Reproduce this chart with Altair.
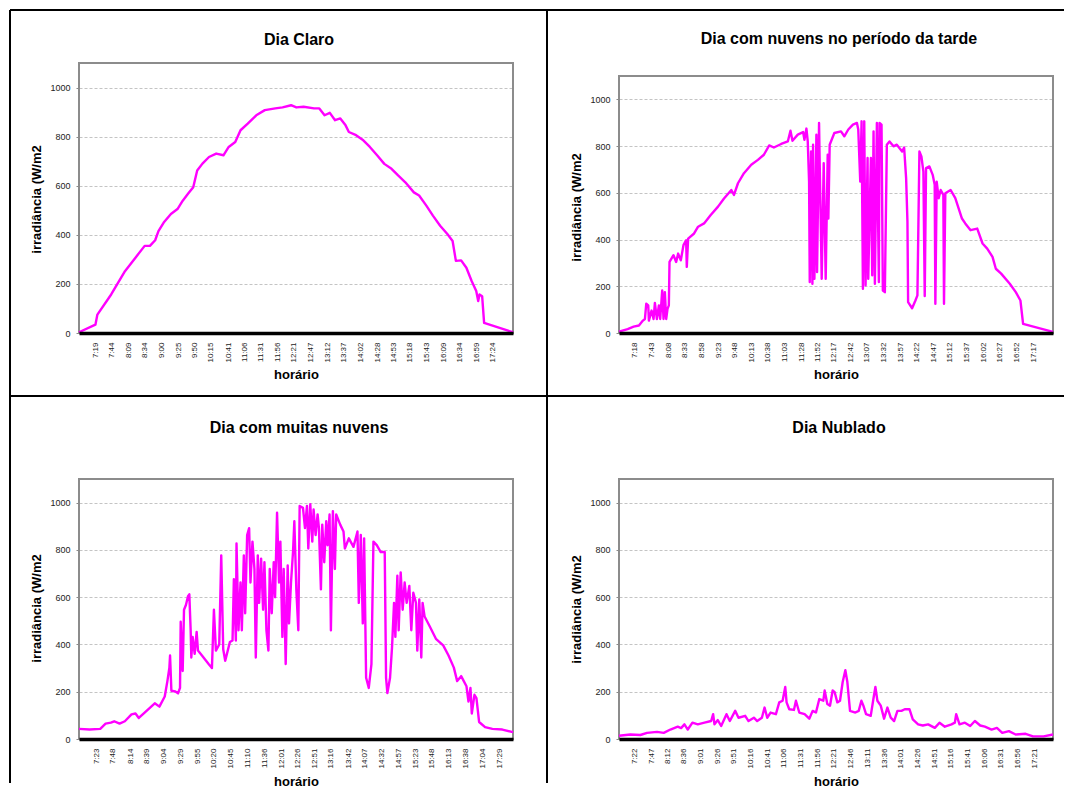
import altair as alt
import pandas as pd

# ---------------- data (time in minutes since midnight, irradiance in W/m2) ----------------
claro_ticks = ["7:19", "7:44", "8:09", "8:34", "9:00", "9:25", "9:50", "10:15", "10:41", "11:06",
               "11:31", "11:56", "12:21", "12:47", "13:12", "13:37", "14:02", "14:28", "14:53",
               "15:18", "15:43", "16:09", "16:34", "16:59", "17:24"]
claro_time = [414, 439, 442, 463, 484, 500, 514, 522, 530, 535, 543, 554, 564, 572, 580, 588, 594,
              602, 612, 623, 634, 642, 652, 660, 671, 684, 697, 713, 724, 737, 745, 756, 772, 780,
              788, 796, 804, 812, 820, 825, 836, 847, 857, 868, 879, 890, 900, 911, 924, 932, 943,
              953, 964, 975, 983, 988, 996, 1004, 1012, 1019, 1022, 1024, 1028, 1031, 1075]
claro_irr = [3, 34, 75, 157, 252, 307, 355, 355, 378, 415, 450, 485, 505, 539, 567, 594, 662,
             690, 717, 731, 724, 758, 778, 826, 853, 887, 908, 915, 919, 928, 919, 922, 915, 915,
             887, 897, 867, 874, 846, 819, 806, 785, 758, 724, 689, 669, 642, 614, 573, 560, 519,
             478, 437, 403, 375, 294, 296, 266, 212, 171, 130, 157, 150, 41, 3]

tarde_ticks = ["7:18", "7:43", "8:08", "8:33", "8:58", "9:23", "9:48", "10:13", "10:38", "11:03",
               "11:28", "11:52", "12:17", "12:42", "13:07", "13:32", "13:57", "14:22", "14:47",
               "15:12", "15:37", "16:02", "16:27", "16:52", "17:17"]
tarde_time = [414, 427, 436, 444, 450, 453, 455, 458, 459, 463, 466, 468, 471, 474, 476, 479, 481,
              483, 485, 487, 489, 490, 496, 500, 503, 507, 511, 515, 516, 518, 527, 533, 542, 552,
              563, 572, 583, 587, 593, 602, 613, 623, 632, 640, 647, 658, 668, 672, 675, 683, 691,
              693, 696, 698, 700, 701, 703, 705, 706, 708, 711, 712, 715, 716, 719, 722, 725, 728,
              729, 731, 738, 748, 753, 759, 766, 772, 774, 777, 779, 781, 783, 785, 788, 789, 793,
              795, 797, 799, 802, 805, 806, 809, 811, 814, 817, 821, 827, 832, 840, 843, 846, 848,
              849, 855, 860, 863, 866, 869, 872, 874, 876, 881, 886, 889, 890, 892, 895, 898, 902,
              903, 905, 913, 920, 930, 935, 943, 953, 961, 968, 976, 981, 989, 1002, 1011, 1018,
              1022, 1067]
tarde_irr = [6, 17, 27, 32, 53, 60, 125, 118, 53, 96, 60, 129, 60, 118, 60, 182, 60,
             175, 60, 103, 118, 304, 333, 304, 340, 311, 376, 397, 283, 404, 426, 455, 469, 505,
             541, 576, 612, 591, 641, 684, 720, 741, 763, 803, 794, 809, 820, 866, 823, 849, 860,
             827, 875, 820, 648, 218, 777, 211, 806, 232, 849, 261, 899, 720, 232, 727, 232, 763,
             490, 806, 856, 863, 842, 871, 892, 899, 871, 648, 906, 189, 906, 204, 749, 232, 749,
             247, 863, 211, 899, 218, 899, 892, 182, 175, 806, 820, 799, 806, 777, 794, 663, 476,
             132, 106, 139, 161, 777, 756, 691, 158, 706, 713, 677, 634, 125, 648, 577, 612, 591,
             125, 598, 612, 577, 490, 469, 440, 447, 383, 361, 326, 275, 254, 211, 175, 139,
             39, 5]

muitas_ticks = ["7:23", "7:48", "8:14", "8:39", "9:04", "9:29", "9:55", "10:20", "10:45", "11:10",
                "11:36", "12:01", "12:26", "12:51", "13:16", "13:42", "14:07", "14:32", "14:57",
                "15:23", "15:48", "16:13", "16:38", "17:04", "17:29"]
muitas_time = [417, 433, 449, 457, 465, 470, 478, 486, 496, 502, 507, 517, 531, 538, 546, 550, 553,
               554, 556, 562, 566, 569, 570, 573, 575, 578, 581, 583, 585, 586, 588, 591, 594, 596,
               602, 612, 617, 620, 623, 628, 631, 634, 637, 644, 648, 650, 653, 654, 657, 660, 662,
               665, 667, 670, 673, 675, 678, 681, 683, 686, 688, 691, 694, 696, 699, 702, 704, 707,
               710, 712, 715, 718, 720, 723, 725, 728, 731, 733, 736, 739, 741, 744, 747, 749, 754,
               757, 760, 762, 765, 768, 770, 773, 776, 778, 781, 783, 786, 789, 791, 794, 796, 799,
               802, 804, 810, 815, 817, 823, 830, 836, 838, 841, 844, 846, 849, 853, 857, 860, 865,
               871, 877, 879, 881, 885, 888, 891, 893, 896, 898, 901, 904, 907, 910, 914, 917, 920,
               924, 926, 929, 932, 934, 937, 945, 954, 965, 973, 981, 986, 992, 1000, 1003, 1006,
               1008, 1012, 1015, 1019, 1028, 1039, 1054, 1070]
muitas_irr = [43, 40, 43, 65, 69, 75, 65, 75, 104, 108, 89, 115, 151, 137, 180, 245, 302,
              353, 204, 201, 193, 216, 496, 288, 547, 568, 604, 612, 460, 345, 432, 360, 453, 374,
              353, 317, 300, 547, 374, 400, 777, 380, 331, 410, 417, 676, 417, 827, 460, 662, 460,
              777, 532, 863, 892, 662, 835, 719, 345, 777, 576, 763, 547, 748, 460, 374, 719, 532,
              748, 600, 957, 662, 835, 432, 719, 317, 734, 489, 662, 791, 921, 633, 460, 986, 978,
              892, 986, 806, 993, 835, 971, 863, 950, 892, 633, 907, 748, 921, 820, 950, 460, 964,
              719, 950, 907, 878, 806, 849, 813, 878, 576, 863, 489, 849, 259, 216, 317, 835, 820,
              791, 791, 259, 194, 259, 389, 576, 432, 691, 460, 705, 547, 662, 576, 648, 460, 619,
              576, 374, 590, 345, 576, 518, 475, 424, 396, 353, 302, 245, 266, 223, 158, 216,
              108, 187, 173, 72, 50, 43, 40, 29]

nublado_ticks = ["7:22", "7:47", "8:12", "8:36", "9:01", "9:26", "9:51", "10:16", "10:41", "11:06",
                 "11:31", "11:56", "12:21", "12:46", "13:11", "13:36", "14:01", "14:26", "14:51",
                 "15:16", "15:41", "16:06", "16:31", "16:56", "17:21"]
nublado_time = [419, 436, 451, 461, 476, 486, 496, 507, 512, 517, 522, 529, 537, 547, 557, 560,
                562, 567, 572, 580, 585, 593, 598, 608, 613, 621, 626, 633, 637, 641, 646, 654, 659,
                664, 668, 670, 674, 681, 684, 689, 697, 704, 709, 714, 719, 725, 727, 731, 735, 739,
                742, 746, 750, 754, 758, 761, 765, 773, 778, 782, 785, 789, 796, 800, 803, 806, 811,
                816, 821, 826, 831, 836, 842, 847, 854, 859, 867, 874, 882, 892, 899, 907, 917, 922,
                924, 929, 937, 945, 952, 960, 967, 977, 985, 993, 1003, 1013, 1028, 1039, 1055, 1069]
nublado_irr = [14, 19, 17, 26, 30, 26, 40, 52, 46, 62, 40, 69, 62, 69, 76, 105,
               62, 80, 55, 105, 76, 119, 90, 98, 76, 90, 76, 90, 133, 90, 112, 105, 155,
               162, 220, 155, 126, 123, 162, 112, 105, 86, 119, 112, 169, 162, 205, 148, 141, 205,
               198, 155, 162, 241, 291, 241, 119, 112, 119, 162, 141, 105, 98, 169, 220, 162, 141,
               86, 133, 90, 76, 119, 119, 126, 126, 83, 62, 57, 62, 47, 69, 52, 62, 69,
               105, 62, 69, 55, 76, 57, 52, 40, 47, 26, 33, 19, 22, 11, 11, 19]

# ---------------- layout helpers ----------------
W, H = 434, 270
FONT = "Liberation Sans"
LABEL_EXPR = ("floor(datum.value / 60) + ':' + (datum.value % 60 < 10 ? '0' : '') "
              "+ (datum.value % 60)")
one = pd.DataFrame({"k": [0]})


def to_min(s):
    h, m = s.split(":")
    return int(h) * 60 + int(m)


def panel(title, ticks, times, irr, ytop, frame_top, title_y, ytitle_y, xtitle_y, borders=False):
    df = pd.DataFrame({"hora": times, "irr": irr})
    x = alt.X(
        "hora:Q",
        scale=alt.Scale(domain=[min(times), max(times)], nice=False, zero=False),
        axis=alt.Axis(
            values=[to_min(s) for s in ticks], labelExpr=LABEL_EXPR, labelAngle=270,
            labelFontSize=8, labelColor="#222222", labelPadding=9, ticks=False, tickSize=0,
            labelOverlap=False, labelFlush=False, grid=False, domainColor="#000000",
            domainWidth=3.5, title="horário", titleFontSize=13, titleFontWeight="bold",
            titleColor="#000000", titleX=W / 2, titleY=xtitle_y, titleAlign="center",
            titleBaseline="middle", zindex=1,
        ),
    )
    y = alt.Y(
        "irr:Q",
        scale=alt.Scale(domain=[0, ytop], nice=False, zero=True),
        axis=alt.Axis(
            values=[0, 200, 400, 600, 800, 1000], format="d", domain=False, grid=True,
            gridDash=[3, 2], gridColor="#c4c4c4", gridWidth=1, tickSize=3, tickColor="#888888",
            labelFontSize=9, labelColor="#222222", labelPadding=6,
            title="irradiância (W/m2", titleFontSize=13, titleFontWeight="bold",
            titleColor="#000000", titleAngle=270, titleX=-43, titleY=ytitle_y,
            titleAlign="center", titleBaseline="middle",
        ),
    )
    frame = alt.Chart(one).mark_rect(fill="transparent", stroke="#8c8c8c", strokeWidth=2).encode(
        x=alt.value(0), x2=alt.value(W), y=alt.value(frame_top), y2=alt.value(H)
    )
    line = alt.Chart(df).mark_line(color="#ff00ff", strokeWidth=2.4, strokeJoin="round").encode(
        x=x, y=y
    )
    ttl = alt.Chart(one).mark_text(
        text=title, font=FONT, fontSize=16, fontWeight="bold", color="#000000",
        align="center", baseline="middle",
    ).encode(x=alt.value(220), y=alt.value(title_y))
    layers = [frame, line, ttl]
    if borders:
        bl = dict(color="#000000", strokeWidth=2)
        layers += [
            alt.Chart(one).mark_rule(**bl).encode(x=alt.value(-69), x2=alt.value(985), y=alt.value(-53)),
            alt.Chart(one).mark_rule(**bl).encode(x=alt.value(-69), x2=alt.value(985), y=alt.value(333)),
            alt.Chart(one).mark_rule(**bl).encode(x=alt.value(-69), y=alt.value(-53), y2=alt.value(720)),
            alt.Chart(one).mark_rule(**bl).encode(x=alt.value(468), y=alt.value(-53), y2=alt.value(720)),
        ]
    return alt.layer(*layers).properties(width=W, height=H)


p1 = panel("Dia Claro", claro_ticks, claro_time, claro_irr, 1100, 0, -23, 136, 41, borders=True)
p2 = panel("Dia com nuvens no período da tarde", tarde_ticks, tarde_time, tarde_irr,
           1100 * H / 257, 13, -24, 144, 41)
p3 = panel("Dia com muitas nuvens", muitas_ticks, muitas_time, muitas_irr,
           1100 * H / 260, 10, -41, 139, 42)
p4 = panel("Dia Nublado", nublado_ticks, nublado_time, nublado_irr,
           1100 * H / 260, 10, -41, 140, 42)

chart = (
    alt.concat(p1, p2, p3, p4, columns=2,
               spacing=alt.RowColnumber(row=136, column=106), bounds="flush")
    .properties(padding=0)
    .configure(font=FONT)
    .configure_view(stroke="transparent")
)

chart.save("out.html", embed_options={"renderer": "svg", "actions": False})
